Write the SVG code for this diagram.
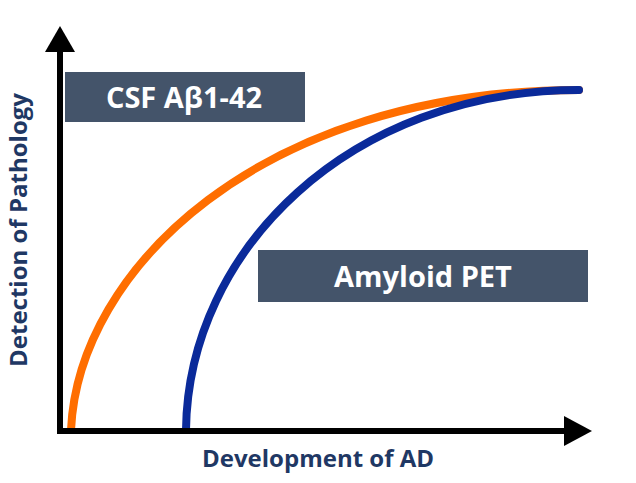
<svg xmlns="http://www.w3.org/2000/svg" width="636" height="483" viewBox="0 0 636 483">
<style>
.box{fill:#44546a}
.bt{fill:#fff;font-family:"Open Sans","Liberation Sans",sans-serif;font-weight:bold;font-size:29px;text-anchor:middle}
.ax{fill:#1f3864;font-family:"Open Sans","Liberation Sans",sans-serif;font-weight:bold;font-size:24px;text-anchor:middle}
.c{fill:none;stroke-width:8;stroke-linecap:round}
</style>
<rect width="636" height="483" fill="#fff"/>
<g id="connectors">
<path class="c" d="M71,430 C78,270 260,90 579,90" stroke="#ff6e00"/>
<path class="c" d="M186,430 C188,250 350,90 579,90" stroke="#0a2a9a"/>
<line x1="60" y1="48" x2="60" y2="434" stroke="#000" stroke-width="6"/>
<polygon points="60,26 45,52 75,52" fill="#000"/>
<line x1="57" y1="431" x2="568" y2="431" stroke="#000" stroke-width="6"/>
<polygon points="592,431 564,416 564,446" fill="#000"/>
</g>
<g id="csf"><rect class="box" x="65" y="72" width="240" height="50"/><text class="bt" x="184" y="108">CSF Aβ1-42</text></g>
<g id="pet"><rect class="box" x="258" y="250" width="330" height="52"/><text class="bt" x="423" y="287">Amyloid PET</text></g>
<g id="ylabel"><text class="ax" transform="translate(27,230) rotate(-90)">Detection of Pathology</text></g>
<g id="xlabel"><text class="ax" x="318" y="467">Development of AD</text></g>
</svg>
